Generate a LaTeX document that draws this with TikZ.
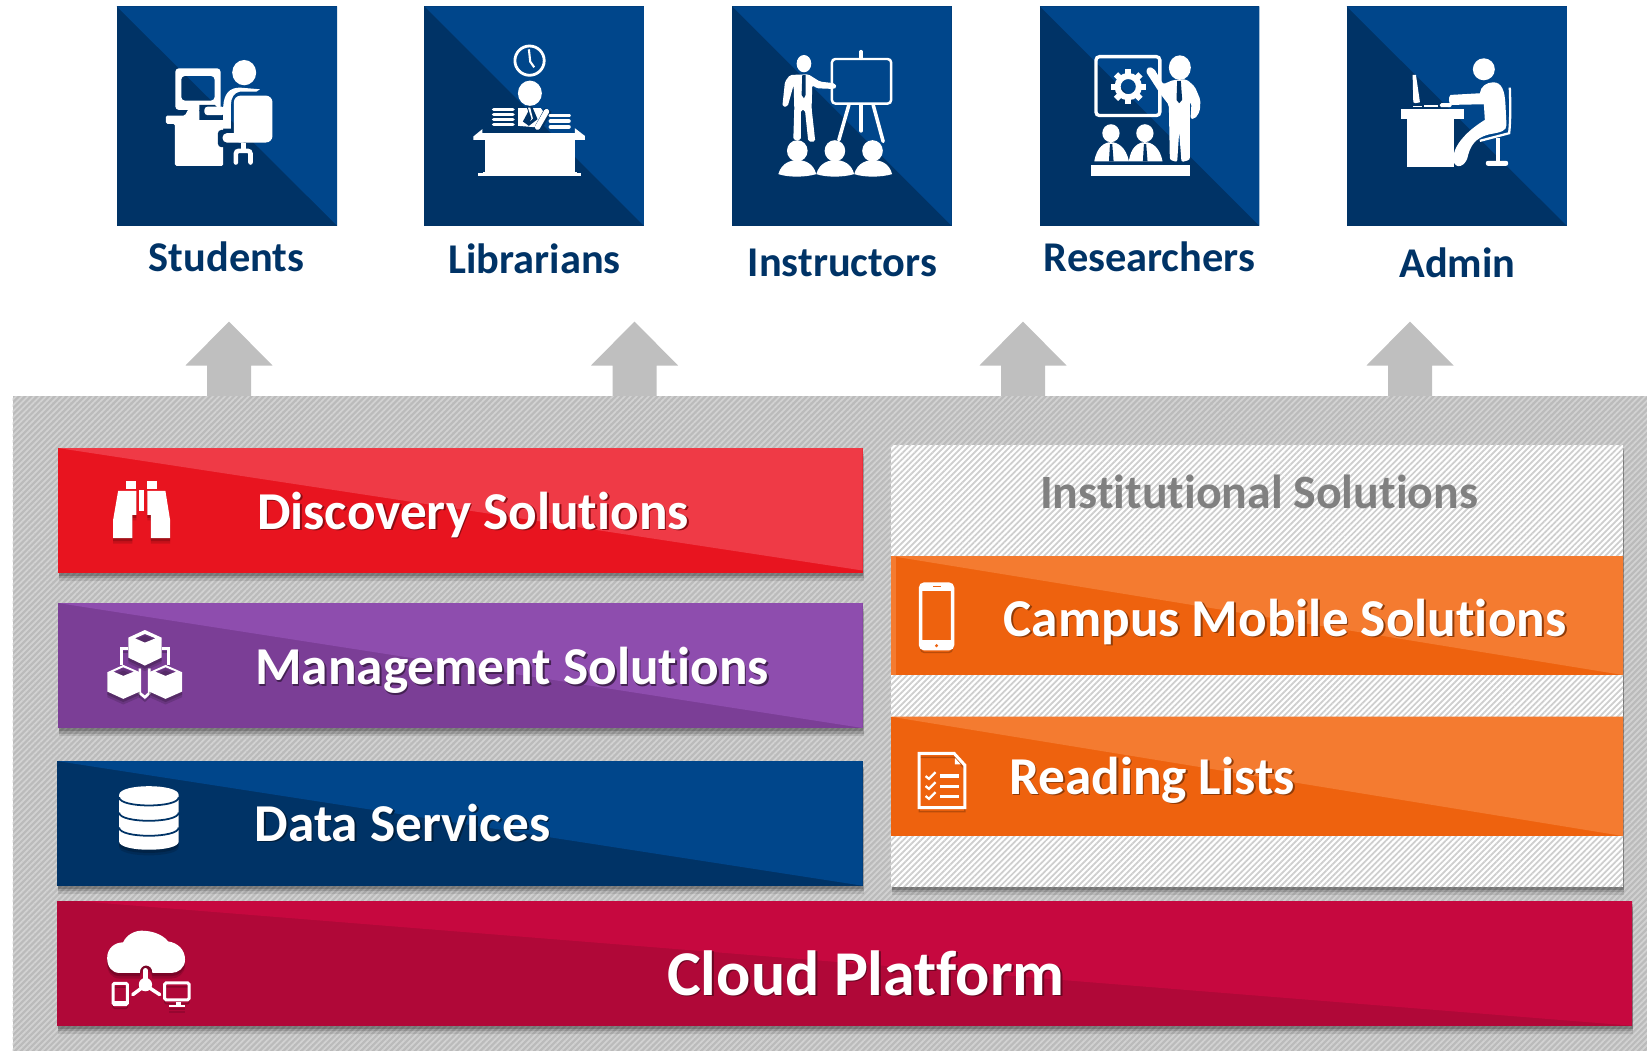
\documentclass[tikz,border=0pt]{standalone}
\usepackage{fontspec}
\setmainfont{Carlito}[Ligatures=NoCommon]
\usetikzlibrary{patterns.meta}
\definecolor{tiledark}{HTML}{003366}
\definecolor{tilelight}{HTML}{00468B}
\definecolor{reddark}{HTML}{E8141F}
\definecolor{redlight}{HTML}{EF3A46}
\definecolor{purpledark}{HTML}{7B3E96}
\definecolor{purplelight}{HTML}{8E4DAE}
\definecolor{cloudlight}{HTML}{C6083F}
\definecolor{clouddark}{HTML}{B00838}
\definecolor{orangedark}{HTML}{EE620E}
\definecolor{orangelight}{HTML}{F47B30}
\definecolor{panelbase}{HTML}{BBBBBB}
\definecolor{panelstripe}{HTML}{D2D2D2}
\definecolor{boxstripe}{HTML}{CECECE}
\definecolor{arrowgray}{HTML}{BFBFBF}
\tikzset{
  zoomcrop/.style={x=.00333cm,y=-.00333cm},
  tilelabel/.style={anchor=base,font=\bfseries\fontsize{12.05}{14}\selectfont,text=tiledark,inner sep=0pt},
  barlabel/.style={anchor=base,font=\bfseries\fontsize{15.15}{17}\selectfont,text=white,inner sep=0pt},
  barshadow/.style={
    preaction={fill=black,opacity=.10,transform canvas={xshift=.4pt,yshift=-2.4pt}},
    preaction={fill=black,opacity=.14,transform canvas={xshift=.3pt,yshift=-1.6pt}},
    preaction={fill=black,opacity=.18,transform canvas={xshift=.2pt,yshift=-.8pt}}},
  softfill/.style={
    preaction={fill=black,opacity=.14,transform canvas={yshift=-1.6pt}},
    preaction={fill=black,opacity=.18,transform canvas={yshift=-.9pt}}},
  softline/.style={
    preaction={draw=black,opacity=.22,transform canvas={yshift=-1.1pt}}},
  hatchgray/.style={pattern={Lines[angle=45,distance=1.2pt,line width=.5pt]},pattern color=panelstripe},
  hatchwhite/.style={pattern={Lines[angle=45,distance=1.2pt,line width=.5pt]},pattern color=boxstripe},
}
\newcommand{\softtext}[2]{\leavevmode\rlap{\kern.5pt\raisebox{-.5pt}{\textcolor{#1}{#2}}}#2}
\begin{document}
\begin{tikzpicture}[x=.01cm,y=-.01cm]
\useasboundingbox (0,0) rectangle (1647,1051);
% tiles
\fill[tiledark] (116.6,6.3) rectangle (337.2,225.8);
\fill[tilelight] (116.6,6.3) -- (337.2,6.3) -- (337.2,225.8) -- cycle;
\fill[tiledark] (424.4,6.3) rectangle (643.9,225.8);
\fill[tilelight] (424.4,6.3) -- (643.9,6.3) -- (643.9,225.8) -- cycle;
\fill[tiledark] (732.1,6.3) rectangle (951.7,225.8);
\fill[tilelight] (732.1,6.3) -- (951.7,6.3) -- (951.7,225.8) -- cycle;
\fill[tiledark] (1039.9,6.3) rectangle (1259.4,225.8);
\fill[tilelight] (1039.9,6.3) -- (1259.4,6.3) -- (1259.4,225.8) -- cycle;
\fill[tiledark] (1346.6,6.3) rectangle (1566.9,225.8);
\fill[tilelight] (1346.6,6.3) -- (1566.9,6.3) -- (1566.9,225.8) -- cycle;
\node[tilelabel] (students) at (226.5,271.5) {Students};
\node[tilelabel] (librarians) at (534.5,273.5) {Librarians};
\node[tilelabel] (instructors) at (842.5,276) {Instructors};
\node[tilelabel] (researchers) at (1149.5,271.5) {Researchers};
\node[tilelabel] (admin) at (1457.5,277) {Admin};
% student at a computer
\begin{scope}[shift={(160,50)},zoomcrop]
\fill[white] (253,68) ellipse (36 and 38);
\fill[white,even odd rule,rounded corners=1pt] (46,55) rectangle (182,180) (64,78) rectangle (164,152);
\fill[white,rounded corners=.4pt] (18,197) -- (75,197) -- (85,178) -- (118,178) -- (124,205) -- (190,207) -- (190,348) -- (45,348) -- (45,222) -- (18,222) -- cycle;
\fill[tiledark] (118,165) -- (165,165) -- (190,190) -- (190,210) -- (118,210) -- cycle;
\fill[white,rounded corners=1pt] (133,170) -- (195,170) -- (195,196) -- (133,196) -- cycle;
\fill[white] (190,236) -- (190,170) .. controls (192,130) and (210,113) .. (240,113) -- (300,118) -- (290,125) -- (240,125) .. controls (222,128) and (213,145) .. (213,165) -- (213,236) -- cycle;
\fill[tiledark,rounded corners=1pt] (174,240) rectangle (230,292);
\fill[white,rounded corners=1.9pt] (222,137) rectangle (338,278);
\fill[white,rounded corners=1.2pt] (188,250) rectangle (262,278);
\fill[white] (242,278) rectangle (258,298);
\draw[white,line width=1.3pt,line cap=round,rounded corners=.8pt] (228,338) -- (228,303) -- (272,303) -- (272,338);
\end{scope}
% librarian at a desk
\begin{scope}[shift={(465,40)},zoomcrop]
\draw[white,line width=.8pt] (194,62) circle (44);
\draw[white,line width=.6pt] (192,28) -- (196,65) -- (208,82);
\fill[white] (195,160) ellipse (36 and 38);
\fill[white] (160,205) -- (228,205) -- (235,215) -- (210,262) -- (160,258) -- cycle;
\fill[tiledark] (184,198) -- (201,198) -- (218,238) -- (192,258) -- (174,245) -- (190,215) -- cycle;
\fill[white] (189,203) -- (196,203) -- (204,236) -- (196,244) -- (200,236) -- cycle;
\draw[tiledark,line width=2.2pt] (250,210) -- (220,265);
\draw[white,line width=1.5pt,line cap=round] (245,215) -- (218,262);
\foreach \y in {209,224,239,254} \draw[white,line width=1.05pt,line cap=round] (86,\y) -- (144,\y);
\foreach \y in {227,244,261} \draw[white,line width=1.1pt,line cap=round] (257,\y) -- (312,\y);
\fill[white] (25,300) -- (25,290) -- (52,268) -- (52,280) -- (330,280) -- (330,265) -- (360,288) -- (360,300) -- cycle;
\fill[white] (60,285) rectangle (330,398);
\fill[white] (54,398) rectangle (336,404);
\fill[white] (38,400) rectangle (348,409);
\end{scope}
% instructor with a board
\begin{scope}[shift={(775,45)},zoomcrop]
\fill[white] (87,56) ellipse (22 and 26);
\fill[white,rounded corners=.5pt] (45,90) -- (100,88) -- (135,110) -- (180,115) -- (186,128) -- (175,132) -- (125,130) -- (112,120) -- (110,190) -- (121,290) -- (100,290) -- (90,195) -- (78,195) -- (78,285) -- (55,285) -- (58,190) -- (56,120) -- (38,185) -- (22,185) -- (30,110) -- cycle;
\fill[tiledark] (82,90) -- (92,90) -- (92,150) -- (87,160) -- (80,150) -- cycle;
\draw[white,line width=.7pt,rounded corners=1pt] (171,42) rectangle (349,176);
\draw[white,line width=1pt,line cap=round] (259,20) -- (259,40);
\draw[white,line width=1pt,line cap=round] (222,180) -- (192,285);
\draw[white,line width=1pt,line cap=round] (259,180) -- (259,258);
\draw[white,line width=1pt,line cap=round] (295,180) -- (325,290);
\fill[white] (67,318) ellipse (31 and 32);
\fill[white] (10,388) .. controls (20,352) and (50,346) .. (67,346) .. controls (90,346) and (115,355) .. (124,388) .. controls (90,398) and (40,398) .. (10,388) -- cycle;
\fill[white] (180,318) ellipse (31 and 32);
\fill[white] (124,388) .. controls (134,352) and (164,346) .. (181,346) .. controls (204,346) and (229,355) .. (238,388) .. controls (204,398) and (154,398) .. (124,388) -- cycle;
\fill[white] (293,318) ellipse (31 and 32);
\fill[white] (238,388) .. controls (248,352) and (278,346) .. (295,346) .. controls (318,346) and (343,355) .. (352,388) .. controls (318,398) and (268,398) .. (238,388) -- cycle;
\end{scope}
% researcher with a screen
\begin{scope}[shift={(1080,45)},zoomcrop]
\draw[white,line width=.95pt,rounded corners=1pt] (48,35) rectangle (240,212);
\draw[white,line width=1.7pt] (145,125) circle (32);
\foreach \a in {0,45,...,315}
  \fill[white,rotate around={\a:(145,125)}] (136,73) rectangle (154,92);
\fill[white] (300,68) ellipse (33 and 37);
\fill[white,rounded corners=.6pt] (205,66) -- (222,70) -- (250,118) -- (280,105) -- (320,103) -- (345,125) -- (362,165) -- (360,200) -- (345,222) -- (332,222) -- (335,175) -- (330,170) -- (330,345) -- (305,352) -- (298,260) -- (292,352) -- (270,345) -- (267,180) -- (240,145) -- (198,80) -- cycle;
\fill[tiledark] (292,108) -- (303,108) -- (307,165) -- (298,175) -- (290,165) -- cycle;
\fill[white] (93,265) ellipse (26 and 27);
\fill[white] (43,350) .. controls (50,305) and (75,292) .. (93,292) .. controls (112,292) and (138,305) .. (147,350) -- cycle;
\fill[tiledark] (90,298) -- (97,298) -- (101,350) -- (87,350) -- cycle;
\fill[white] (195,265) ellipse (26 and 27);
\fill[white] (147,350) .. controls (152,305) and (177,292) .. (195,292) .. controls (214,292) and (240,305) .. (248,350) -- cycle;
\fill[tiledark] (192,298) -- (199,298) -- (203,350) -- (189,350) -- cycle;
\fill[white] (32,360) rectangle (332,395);
\end{scope}
% admin at a desk
\begin{scope}[shift={(1390,45)},zoomcrop]
\fill[white] (282,73) ellipse (33 and 33);
\fill[white] (182,150) -- (270,145) .. controls (272,125) and (290,112) .. (310,112) .. controls (335,112) and (345,135) .. (347,180) -- (350,240) .. controls (350,258) and (335,262) .. (300,268) .. controls (270,275) and (245,290) .. (235,330) .. controls (230,365) and (195,378) .. (190,345) .. controls (188,310) and (220,265) .. (285,225) -- (282,178) -- (185,180) .. controls (175,178) and (175,155) .. (182,150) -- cycle;
\draw[white,line width=.65pt] (360,128) .. controls (362,180) and (362,230) .. (358,265) -- (270,288);
\fill[white] (318,280) rectangle (332,350);
\fill[white,rounded corners=.6pt] (288,348) rectangle (355,363);
\fill[white] (33,191) rectangle (222,222);
\fill[white] (52,222) rectangle (192,368);
\fill[white] (68,90) -- (78,90) -- (90,172) -- (76,175) -- (70,172) -- cycle;
\fill[white] (68,182) rectangle (95,187);
\fill[white] (103,180) rectangle (145,186);
\fill[white,rounded corners=.4pt] (150,175) rectangle (185,187);
\end{scope}
% arrows
\fill[arrowgray] (229,321.5) -- (272.5,365.5) -- (251,365.5) -- (251,396) -- (207,396) -- (207,365.5) -- (185.5,365.5) -- cycle;
\fill[arrowgray] (634.5,321.5) -- (678,365.5) -- (656.5,365.5) -- (656.5,396) -- (612.5,396) -- (612.5,365.5) -- (591,365.5) -- cycle;
\fill[arrowgray] (1023,321.5) -- (1066.5,365.5) -- (1045,365.5) -- (1045,396) -- (1001,396) -- (1001,365.5) -- (979.5,365.5) -- cycle;
\fill[arrowgray] (1410,321.5) -- (1453.5,365.5) -- (1432,365.5) -- (1432,396) -- (1388,396) -- (1388,365.5) -- (1366.5,365.5) -- cycle;
% panels
\fill[panelbase] (12.5,396) rectangle (1647,1051);
\path[hatchgray] (12.5,396) rectangle (1647,1051);
\fill[white,barshadow] (891,445) rectangle (1623,886.7);
\path[hatchwhite] (891,445) rectangle (1623,886.7);
% bars
\fill[reddark,barshadow] (58,448) rectangle (862.6,572.7);
\fill[redlight] (58,448) -- (862.6,448) -- (862.6,570.5) -- cycle;
\fill[purpledark,barshadow] (58,603) rectangle (862.6,728);
\fill[purplelight] (58,603) -- (862.6,603) -- (862.6,728) -- cycle;
\fill[tiledark,barshadow] (57,761) rectangle (862.6,885.7);
\fill[tilelight] (57,761) -- (862.6,761) -- (862.6,885.7) -- cycle;
\fill[clouddark,barshadow] (57,901) rectangle (1632,1025.7);
\fill[cloudlight] (77,901) -- (1632,901) -- (1632,1025.7) -- cycle;
\fill[orangedark] (891,556) rectangle (1623,675);
\fill[orangelight] (891,556) -- (1623,556) -- (1623,675) -- cycle;
\fill[orangelight] (891,556) rectangle (896,675);
\fill[orangedark] (891,716.7) rectangle (1623,836);
\fill[orangelight] (891,716.7) -- (1623,716.7) -- (1623,836) -- cycle;
\node[barlabel] (discovery) at (473,529) {\softtext{reddark!60!black}{Discovery Solutions}};
\node[barlabel] (management) at (512,684.5) {\softtext{purpledark!55!black}{Management Solutions}};
\node[barlabel] (dataservices) at (402.5,841) {\softtext{tiledark!60!black}{Data Services}};
\node[barlabel,text=black!50,font=\bfseries\fontsize{13.6}{15}\selectfont] (institutional) at (1259,508.5) {Institutional Solutions};
\node[barlabel] (campus) at (1285,636) {\softtext{orangedark!60!black}{Campus Mobile Solutions}};
\node[barlabel] (reading) at (1152,794) {\softtext{orangedark!60!black}{Reading Lists}};
\node[barlabel,font=\bfseries\fontsize{18.15}{20}\selectfont] (cloud) at (866,995) {\softtext{clouddark!60!black}{Cloud Platform}};
% binoculars
\begin{scope}[shift={(0,380)},zoomcrop]
\fill[white,softfill] (355,333) -- (410,333) -- (410,405) -- (398,405) -- (398,475) -- (340,475) -- (340,420) -- cycle;
\fill[white,softfill] (497,333) -- (443,333) -- (443,405) -- (453,405) -- (453,475) -- (511,475) -- (511,420) -- cycle;
\fill[white] (378,303) rectangle (410,327);
\fill[white] (441,303) rectangle (473,327);
\fill[white] (417,332) rectangle (434,395);
\end{scope}
% cubes
\begin{scope}[shift={(90,615)},zoomcrop]
\draw[white,line width=.75pt,softline] (95,150) -- (95,100) -- (115,100);
\draw[white,line width=.75pt,softline] (235,150) -- (235,100) -- (215,100);
\draw[white,line width=.75pt,softline] (150,160) -- (150,235) -- (165,247) -- (178,235) -- (178,160);
\fill[white,softfill,even odd rule] (165,45) -- (215,68) -- (215,128) -- (165,152) -- (115,128) -- (115,68) -- cycle (135,70) -- (165,57) -- (197,70) -- (165,83) -- cycle;
\fill[white,softfill,even odd rule] (100,150) -- (150,172) -- (150,230) -- (100,252) -- (52,230) -- (52,172) -- cycle (70,170) -- (100,157) -- (132,170) -- (100,183) -- cycle;
\fill[white,softfill,even odd rule] (227,150) -- (277,172) -- (277,230) -- (227,252) -- (178,230) -- (178,172) -- cycle (196,170) -- (227,157) -- (259,170) -- (227,183) -- cycle;
\end{scope}
% database and cloud
\begin{scope}[shift={(0,740)},zoomcrop]
\fill[white,softfill] (358,165) .. controls (358,130) and (537,130) .. (537,165) -- (537,305) .. controls (537,338) and (358,338) .. (358,305) -- cycle;
\draw[tiledark,line width=.5pt] (358,172) .. controls (358,205) and (537,205) .. (537,172);
\draw[tiledark,line width=.5pt] (358,218) .. controls (358,251) and (537,251) .. (537,218);
\draw[tiledark,line width=.5pt] (358,263) .. controls (358,296) and (537,296) .. (537,263);
%
\fill[white,softfill] (360,700) .. controls (335,700) and (322,680) .. (322,655) .. controls (322,625) and (345,608) .. (370,608) .. controls (380,585) and (405,573) .. (425,573) .. controls (450,573) and (485,580) .. (505,605) .. controls (535,610) and (556,630) .. (556,660) .. controls (556,685) and (535,700) .. (515,700) -- (458,700) .. controls (458,670) and (420,670) .. (420,700) -- cycle;
\fill[white] (437,735) circle (20);
\draw[white,line width=1.3pt,line cap=round] (437,692) -- (437,725);
\draw[white,line width=1pt,line cap=round] (399,765) -- (430,742);
\draw[white,line width=1pt,line cap=round] (480,765) -- (445,742);
\draw[white,line width=.85pt,rounded corners=.4pt,softline] (340,731) rectangle (383,795);
\fill[white] (340,785) rectangle (383,800);
\draw[white,line width=.85pt,rounded corners=.4pt,softline] (495,730) rectangle (568,781);
\fill[white] (530,787) rectangle (545,797);
\fill[white,softfill] (508,797) rectangle (556,803);
\end{scope}
% phone and list
\begin{scope}[shift={(860,430)},zoomcrop]
\draw[white,line width=1pt,rounded corners=1.1pt,softline] (182,463) rectangle (278,657);
\fill[white] (182,463) rectangle (278,485);
\fill[white] (182,630) rectangle (278,657);
\fill[orangedark] (218,468) rectangle (244,473);
\fill[orangedark] (230,648) circle (5);
%
\draw[white,line width=.85pt,softline] (178,972) -- (283,972) -- (315,1007) -- (315,1135) -- (178,1135) -- cycle;
\fill[white] (285,985) -- (303,1005) -- (285,1005) -- cycle;
\draw[white,line width=.95pt] (240,1040) -- (298,1040);
\draw[white,line width=.95pt] (240,1072) -- (298,1072);
\draw[white,line width=.95pt] (240,1102) -- (298,1102);
\draw[white,line width=.65pt] (197,1040) -- (207,1048) -- (227,1028);
\draw[white,line width=.65pt] (197,1070) -- (207,1078) -- (227,1058);
\draw[white,line width=.65pt] (197,1100) -- (207,1108) -- (227,1088);
\end{scope}
\end{tikzpicture}
\end{document}
